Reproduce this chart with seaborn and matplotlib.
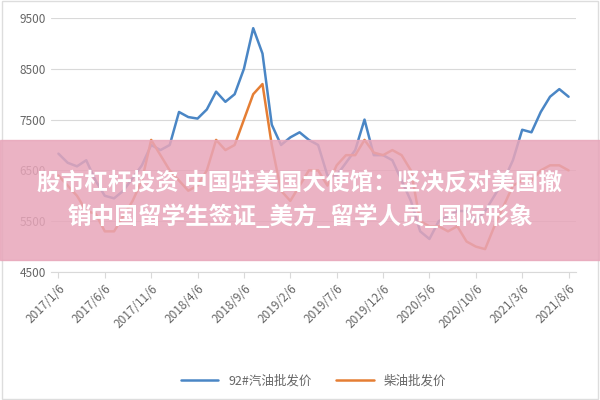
import numpy as np
import pandas as pd
import seaborn as sns
import matplotlib.pyplot as plt
from matplotlib.patches import Rectangle

months = list(range(56))
gasoline = [6830, 6650, 6580, 6700, 6300, 6000, 5950, 6100, 6350, 6600, 7000, 6900,
            7000, 7650, 7550, 7520, 7700, 8050, 7850, 8000, 8500, 9300, 8800, 7400,
            7000, 7150, 7250, 7100, 7000, 6400, 6400, 6650, 6900, 7500, 6800, 6800,
            6700, 6300, 5900, 5300, 5150, 5500, 5600, 5700, 5700, 5500, 5700, 6000,
            6300, 6700, 7300, 7250, 7650, 7950, 8100, 7950]
diesel = [6400, 6200, 6000, 5700, 5650, 5300, 5300, 5600, 5900, 6300, 7100, 6800,
          6500, 6300, 6100, 6200, 6500, 7100, 6900, 7000, 7500, 8000, 8200, 7000,
          6100, 5900, 6200, 6500, 6500, 6200, 6600, 6800, 6800, 7100, 6850, 6800,
          6900, 6800, 6500, 5500, 5400, 5400, 5300, 5400, 5100, 5000, 4950, 5400,
          5800, 6200, 6300, 6300, 6500, 6600, 6600, 6500]
tick_labels = ['2017/1/6', '2017/6/6', '2017/11/6', '2018/4/6', '2018/9/6', '2019/2/6',
               '2019/7/6', '2019/12/6', '2020/5/6', '2020/10/6', '2021/3/6', '2021/8/6']
series_names = ['92#汽油批发价', '柴油批发价']
title = '股市杠杆投资 中国驻美国大使馆：坚决反对美国撤\n销中国留学生签证_美方_留学人员_国际形象'

sns.set_style('white')
plt.rcParams['font.family'] = ['Noto Sans CJK SC', 'DejaVu Sans']

df = pd.DataFrame({'month': months * 2,
                   'price': gasoline + diesel,
                   'series': [series_names[0]] * 56 + [series_names[1]] * 56})

fig = plt.figure(figsize=(6, 4), dpi=100)
ax = fig.add_axes([0.085, 0.32, 0.875, 0.635])
sns.lineplot(data=df, x='month', y='price', hue='series', ax=ax,
             palette=['#4a86c5', '#e57e34'], linewidth=1.8)
ax.set_ylim(4500, 9500)
ax.set_xlim(-0.8, 55.8)
ax.set_yticks([4500, 5500, 6500, 7500, 8500, 9500])
ax.yaxis.grid(True, color='#d9d9d9')
ax.set_xticks(range(0, 56, 5))
ax.set_xticklabels(tick_labels, rotation=45, ha='right', rotation_mode='anchor',
                   fontsize=8.5, color='#666666')
ax.tick_params(axis='y', labelsize=8.5, colors='#666666', length=0)
ax.tick_params(axis='x', length=4, color='#d9d9d9', bottom=True)
for s in ['left', 'right', 'top']:
    ax.spines[s].set_visible(False)
ax.spines['bottom'].set_color('#d9d9d9')
ax.set_xlabel('')
ax.set_ylabel('')
ax.legend(loc='upper center', bbox_to_anchor=(0.5, -0.36), ncol=2, frameon=False,
          fontsize=9, labelcolor='#666666', handlelength=3)

fig.patches.append(Rectangle((0.0, 0.35), 1.0, 0.3, transform=fig.transFigure,
                             color='#e8a6ba', alpha=0.85, zorder=5))
fig.patches.append(Rectangle((0.003, 0.003), 0.994, 0.994, transform=fig.transFigure,
                             fill=False, edgecolor='#dddddd', linewidth=1))
fig.text(0.5, 0.5, title, ha='center', va='center', fontsize=17, fontweight='bold',
         color='white', linespacing=1.45, zorder=6)

fig.savefig('out.png', dpi=100)
